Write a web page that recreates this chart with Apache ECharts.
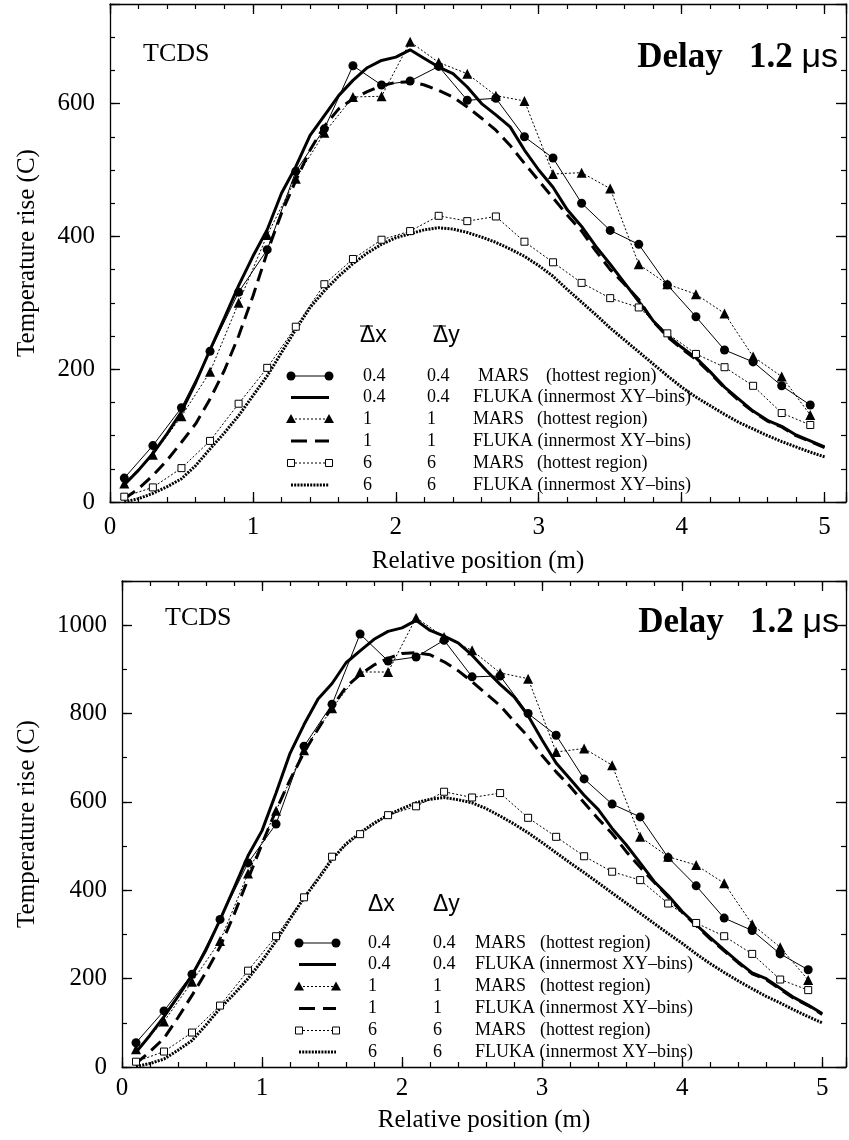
<!DOCTYPE html>
<html><head><meta charset="utf-8">
<script src="https://cdn.jsdelivr.net/npm/echarts@6/dist/echarts.min.js"></script>
<style>html,body{margin:0;padding:0;background:#fff}#c{width:849px;height:1140px}</style>
</head><body><div id="c"></div>
<script>
// ---------------- DATA ----------------
const xMars = [0.1,0.3,0.5,0.7,0.9,1.1,1.3,1.5,1.7,1.9,2.1,2.3,2.5,2.7,2.9,3.1,3.3,3.5,3.7,3.9,4.1,4.3,4.5,4.7,4.9];
const xFluka = [0.1,0.2,0.3,0.4,0.5,0.6,0.7,0.8,0.9,1.0,1.1,1.2,1.3,1.4,1.5,1.6,1.7,1.8,1.9,2.0,2.1,2.2,2.3,2.4,2.5,2.6,2.7,2.8,2.9,3.0,3.1,3.2,3.3,3.4,3.5,3.6,3.7,3.8,3.9,4.0,4.1,4.2,4.3,4.4,4.5,4.6,4.7,4.8,4.9,5.0];

// top panel
const topMars04 = [36,85,142,227,316,380,498,562,657,628,634,656,605,608,550,518,450,409,388,327,279,229,211,175,146];
const topMars1  = [28,71,129,196,300,402,487,556,610,611,693,662,645,612,604,494,496,472,358,328,313,284,219,189,131];
const topMars6  = [8,22,51,92,148,202,264,328,366,395,408,431,423,430,392,361,330,307,293,254,223,203,175,134,116];
const topFluka04 = [26,48,73,103,136,180,229,277,326,370,410,465,505,552,582,612,635,654,665,670,681,668,655,645,625,600,583,565,530,500,474,440,415,385,358,330,302,273,251,233,217,196,173,155,137,123,114,101,92,83];
const topFluka1  = [5,20,40,63,90,118,155,198,250,310,376,435,484,530,566,592,607,618,627,632,633,628,620,610,595,578,560,537,510,484,458,432,408,378,350,328,305,272,249,231,215,194,172,153,136,122,113,100,91,82];
const topFluka6  = [0,5,13,23,35,55,80,104,130,160,190,225,260,293,318,340,359,375,388,398,404,410,413,411,406,399,391,381,370,356,340,320,301,282,262,244,226,208,190,173,158,145,132,120,110,100,91,83,75,68];

// bottom panel
const botMars04 = [55,127,210,334,462,550,726,821,980,919,928,966,883,885,800,751,652,595,566,474,410,337,309,256,220];
const botMars1  = [40,103,193,285,438,580,717,812,894,894,1017,973,943,892,879,713,721,683,521,476,457,416,323,271,197];
const botMars6  = [12,35,78,139,218,296,384,476,527,570,590,623,610,620,564,521,477,442,423,370,326,296,256,198,174];
const botFluka04 = [33,72,114,160,208,265,333,405,478,535,620,710,775,833,868,915,942,968,986,994,1011,988,975,960,932,898,866,838,795,740,688,652,615,583,540,503,462,420,388,352,322,293,265,238,213,200,178,157,140,121];
const botFluka1  = [8,35,65,112,162,215,272,345,425,505,581,650,712,765,815,860,888,910,925,936,938,933,917,897,872,845,818,782,748,705,668,635,598,562,528,488,452,418,385,350,320,290,263,236,211,198,176,155,139,119];
const botFluka6  = [1,8,18,38,60,95,133,165,200,240,285,335,383,425,470,505,530,552,570,585,598,606,610,605,598,585,568,550,530,508,485,462,440,417,394,371,348,325,302,280,256,234,214,195,177,160,145,129,114,100];

// ticks (labels shown, major / minor step)
const xTickLabels = [0,1,2,3,4,5];
const xMajorStep = 1, xMinorStep = 0.2;
const topYTickLabels = [0,200,400,600];
const topYMajorStep = 200, topYMinorStep = 50;
const botYTickLabels = [0,200,400,600,800,1000];
const botYMajorStep = 200, botYMinorStep = 100;

// legend entries
const legendCols1 = ['0.4','0.4','1','1','6','6'];
const legendCols2 = ['0.4','0.4','1','1','6','6'];
const legendNames = ['MARS','FLUKA (innermost XY\u2013bins)','MARS','FLUKA (innermost XY\u2013bins)','MARS','FLUKA (innermost XY\u2013bins)'];
const legendParens = ['(hottest region)','','(hottest region)','','(hottest region)',''];

// ---------------- CHART ----------------
const SERIF = '"Liberation Serif","Times New Roman",serif';
const SANS = '"Liberation Sans",Arial,sans-serif';
const BLACK = '#000';

function pairs(xs, ys){ return xs.map((x,i)=>[x, ys[i]]); }

function makeAxes(g, pos, min, max, labels, majorStep, minorStep, opt){
  const base = {type:'value', gridIndex:g, position:pos, min:min, max:max, silent:true,
    splitLine:{show:false}, axisLine:{show:false,onZero:false}};
  const main = Object.assign({}, base, {
    interval: majorStep,
    axisLine:{show:true,onZero:false,lineStyle:{color:BLACK,width:1.3}},
    axisTick:{show:true,inside:true,length:10,lineStyle:{color:BLACK,width:1.3}},
    axisLabel: opt.label ? {show:true,margin:opt.margin,color:BLACK,fontFamily:SERIF,fontSize:25,
      showMaxLabel:true, hideOverlap:false,
      formatter:function(v){ return labels.some(l=>Math.abs(l-v)<1e-6) ? String(v) : ''; }} : {show:false}
  });
  if (opt.name){
    main.name = opt.name; main.nameLocation='middle'; main.nameGap=opt.nameGap;
    main.nameTextStyle = {color:BLACK,fontFamily:SERIF,fontSize:25};
  }
  const minor = Object.assign({}, base, {
    interval: minorStep,
    axisTick:{show:true,inside:true,length:5,lineStyle:{color:BLACK,width:1.2}},
    axisLabel:{show:false}
  });
  return [main, minor];
}

const grids = [
  {left:110, top:4, width:738, height:498},
  {left:122, top:581, width:726, height:486}
];
const xMax = [5.15, 5.17];
const yMax = [750, 1100];

const xAxes = [].concat(
  makeAxes(0,'bottom',0,xMax[0],xTickLabels,xMajorStep,xMinorStep,{label:true,margin:13,name:'Relative position (m)',nameGap:47}),
  makeAxes(0,'top',0,xMax[0],xTickLabels,xMajorStep,xMinorStep,{label:false}),
  makeAxes(1,'bottom',0,xMax[1],xTickLabels,xMajorStep,xMinorStep,{label:true,margin:9,name:'Relative position (m)',nameGap:41}),
  makeAxes(1,'top',0,xMax[1],xTickLabels,xMajorStep,xMinorStep,{label:false})
);
const yAxes = [].concat(
  makeAxes(0,'left',0,yMax[0],topYTickLabels,topYMajorStep,topYMinorStep,{label:true,margin:15,name:'Temperature rise (C)',nameGap:70}),
  makeAxes(0,'right',0,yMax[0],topYTickLabels,topYMajorStep,topYMinorStep,{label:false}),
  makeAxes(1,'left',0,yMax[1],botYTickLabels,botYMajorStep,botYMinorStep,{label:true,margin:15,name:'Temperature rise (C)',nameGap:82}),
  makeAxes(1,'right',0,yMax[1],botYTickLabels,botYMajorStep,botYMinorStep,{label:false})
);

function flukaSeries(ax, data, lineType){
  return {type:'line', xAxisIndex:ax, yAxisIndex:ax, data:pairs(xFluka,data), symbol:'none',
    lineStyle:{color:BLACK,width:3,type:lineType}, emphasis:{disabled:true}, z:2};
}
function marsSeries(ax, data, sym){
  const s = {type:'line', xAxisIndex:ax, yAxisIndex:ax, data:pairs(xMars,data), emphasis:{disabled:true}, z:3};
  if (sym==='circle'){ s.symbol='circle'; s.symbolSize=9; s.itemStyle={color:BLACK}; s.lineStyle={color:BLACK,width:1,type:'solid'}; }
  if (sym==='triangle'){ s.symbol='triangle'; s.symbolSize=10; s.itemStyle={color:BLACK}; s.lineStyle={color:BLACK,width:1,type:[2,2]}; }
  if (sym==='rect'){ s.symbol='rect'; s.symbolSize=7; s.itemStyle={color:'#fff',borderColor:BLACK,borderWidth:1}; s.lineStyle={color:BLACK,width:1,type:[2,2]}; }
  return s;
}

const series = [
  flukaSeries(0, topFluka04, 'solid'),
  flukaSeries(0, topFluka1, [13,7]),
  flukaSeries(0, topFluka6, [2,1.2]),
  marsSeries(0, topMars04, 'circle'),
  marsSeries(0, topMars1, 'triangle'),
  marsSeries(0, topMars6, 'rect'),
  flukaSeries(4, botFluka04, 'solid'),
  flukaSeries(4, botFluka1, [13,7]),
  flukaSeries(4, botFluka6, [2,1.2]),
  marsSeries(4, botMars04, 'circle'),
  marsSeries(4, botMars1, 'triangle'),
  marsSeries(4, botMars6, 'rect')
];

// ---------- legend & annotations (graphic) ----------
function txt(x,y,text,font,align){
  return {type:'text', x:x, y:y, silent:true, style:{text:text, font:font, fill:BLACK,
    align:align||'left', textAlign:align||'left', verticalAlign:'middle', textVerticalAlign:'middle'}};
}
function ln(x1,y1,x2,y2,w,dash){
  return {type:'line', silent:true, shape:{x1:x1,y1:y1,x2:x2,y2:y2}, style:{stroke:BLACK,lineWidth:w,lineDash:dash||null}};
}
function sym(kind,x,y){
  if (kind==='circle') return {type:'circle', silent:true, shape:{cx:x,cy:y,r:4.5}, style:{fill:BLACK}};
  if (kind==='triangle') return {type:'polygon', silent:true, shape:{points:[[x,y-5],[x+5,y+4],[x-5,y+4]]}, style:{fill:BLACK}};
  return {type:'rect', silent:true, shape:{x:x-3.5,y:y-3.5,width:7,height:7}, style:{fill:'#fff',stroke:BLACK,lineWidth:1}};
}
const rowStyles = [
  {sym:'circle', w:1, dash:null},
  {sym:null, w:3, dash:null},
  {sym:'triangle', w:1, dash:[2,2]},
  {sym:null, w:3, dash:[16,8]},
  {sym:'rect', w:1, dash:[2,2]},
  {sym:null, w:3, dash:[2,1.2]}
];
function legend(L){
  const els = [];
  const hf = '23px ' + SANS;
  els.push(txt(L.hx, L.hy, '\u0394x', hf));
  els.push(txt(L.hyx, L.hy, '\u0394y', hf));
  if (L.bar){
    els.push(ln(L.hx, L.hy-10, L.hx+13, L.hy-10, 1));
    els.push(ln(L.hyx, L.hy-10, L.hyx+13, L.hy-10, 1));
  }
  const f = '18px ' + SERIF;
  for (let i=0;i<6;i++){
    const y = L.rows[i], st = rowStyles[i];
    els.push(ln(L.s1, y, L.s2, y, st.w, st.dash));
    if (st.sym){ els.push(sym(st.sym, L.s1, y)); els.push(sym(st.sym, L.s2, y)); }
    els.push(txt(L.c1, y, legendCols1[i], f));
    els.push(txt(L.c2, y, legendCols2[i], f));
    els.push(txt(L.nx[i], y, legendNames[i], f));
    if (legendParens[i]) els.push(txt(L.px[i], y, legendParens[i], f));
  }
  return els;
}
function delay(x,y){
  return {type:'text', x:x, y:y, silent:true, style:{text:'{a|Delay   1.2 }{b|\u03bcs}', fill:BLACK,
    align:'right', textAlign:'right', verticalAlign:'middle', textVerticalAlign:'middle',
    rich:{a:{font:'bold 35px '+SERIF, fill:BLACK}, b:{font:'34px '+SANS, fill:BLACK}}}};
}

const graphics = [].concat(
  legend({hx:360, hyx:433, hy:336, bar:true, rows:[376,397.5,419,441,463,485], s1:291, s2:329, c1:363, c2:427,
          nx:[478,473,473,473,473,473], px:[546,0,537,0,537,0]}),
  legend({hx:368, hyx:433, hy:905, bar:false, rows:[943,964.5,986.5,1008.5,1030.5,1052], s1:299, s2:336, c1:368, c2:433,
          nx:[475,475,475,475,475,475], px:[540,0,540,0,540,0]}),
  [txt(143, 54, 'TCDS', '26px '+SERIF), txt(165, 618, 'TCDS', '26px '+SERIF), delay(838, 58), delay(839, 623)]
);

const chart = echarts.init(document.getElementById('c'), null, {renderer:'canvas'});
chart.setOption({
  backgroundColor:'#fff',
  animation:false,
  grid: grids,
  xAxis: xAxes,
  yAxis: yAxes,
  series: series,
  graphic: graphics
});
</script>
</body></html>
